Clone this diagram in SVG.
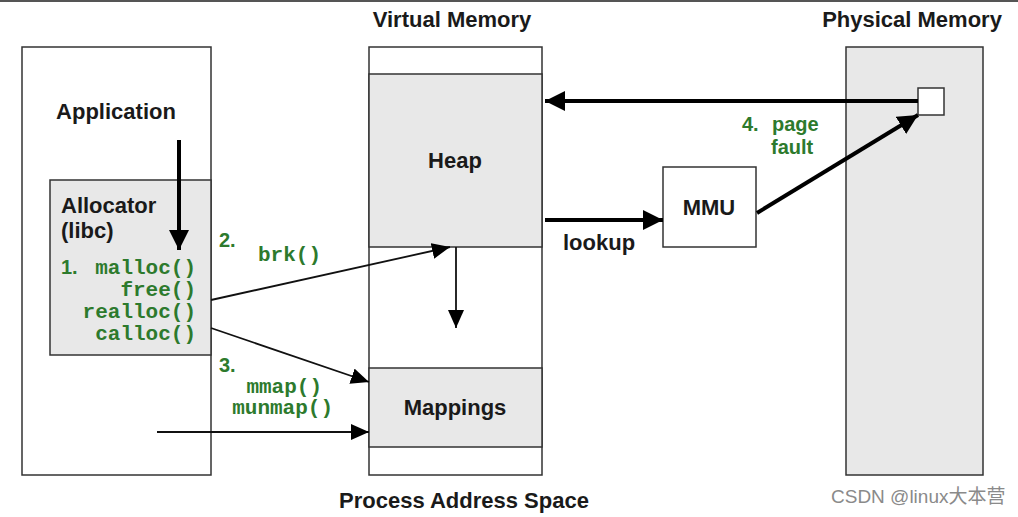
<svg xmlns="http://www.w3.org/2000/svg" width="1018" height="517" viewBox="0 0 1018 517">
<style>
.box{fill:#fff;stroke:#333;stroke-width:1.5}
.gray{fill:#e8e8e8;stroke:#333;stroke-width:1.5}
.lbl{font-family:"Liberation Sans",Arial,sans-serif;font-weight:bold;font-size:22px;fill:#1a1a1a}
.grn{font-family:"Liberation Sans",Arial,sans-serif;font-weight:bold;font-size:20px;fill:#2d7a2d}
.code{font-family:"Liberation Mono","Courier New",monospace;font-weight:bold;font-size:21px;fill:#2d7a2d}
.thin{stroke:#111;stroke-width:1.8;fill:none}
.thick{stroke:#000;stroke-width:4;fill:none}
.wm{font-family:"Liberation Sans",Arial,"Noto Sans CJK SC",sans-serif;font-size:19px;fill:#8a8a8a}
</style>
<defs>
<marker id="ah" markerUnits="userSpaceOnUse" markerWidth="20" markerHeight="16" refX="18" refY="8" orient="auto">
<path d="M0,0 L18,8 L0,16 Z" fill="#000"/>
</marker>
<marker id="ahb" markerUnits="userSpaceOnUse" markerWidth="22" markerHeight="20" refX="20" refY="10" orient="auto">
<path d="M0,0 L20,10 L0,20 Z" fill="#000"/>
</marker>
</defs>
<rect x="0" y="0" width="1018" height="2" fill="#555"/>
<g id="application">
<rect class="box" x="22" y="47" width="189" height="428"/>
<text class="lbl" x="116" y="119" text-anchor="middle">Application</text>
</g>
<g id="allocator">
<rect class="gray" x="50" y="180" width="161" height="175"/>
<text class="lbl" x="61" y="213">Allocator</text>
<text class="lbl" x="61" y="238">(libc)</text>
<text class="grn" x="61" y="274">1.</text>
<text class="code" x="196" y="274" text-anchor="end">malloc()</text>
<text class="code" x="196" y="296" text-anchor="end">free()</text>
<text class="code" x="196" y="318" text-anchor="end">realloc()</text>
<text class="code" x="196" y="340" text-anchor="end">calloc()</text>
</g>
<g id="virtual-memory">
<text class="lbl" x="452" y="27" text-anchor="middle">Virtual Memory</text>
<rect class="box" x="369" y="47" width="173" height="428"/>
<rect class="gray" x="369" y="74" width="173" height="173"/>
<text class="lbl" x="455" y="168" text-anchor="middle">Heap</text>
<rect class="gray" x="369" y="368" width="173" height="79"/>
<text class="lbl" x="455" y="415" text-anchor="middle">Mappings</text>
<text class="lbl" x="464" y="508" text-anchor="middle">Process Address Space</text>
</g>
<g id="mmu">
<rect class="box" x="663" y="167" width="93" height="80"/>
<text class="lbl" x="709" y="215" text-anchor="middle">MMU</text>
</g>
<g id="physical-memory">
<text class="lbl" x="912" y="27" text-anchor="middle">Physical Memory</text>
<rect class="gray" x="846" y="47" width="137" height="428"/>
<rect class="box" x="918" y="88" width="26" height="27"/>
</g>
<g id="connectors">
<line class="thick" x1="179" y1="140" x2="179" y2="250" marker-end="url(#ahb)"/>
<line class="thin" x1="211" y1="300" x2="450" y2="247" marker-end="url(#ah)"/>
<line class="thin" x1="211" y1="328" x2="369" y2="382" marker-end="url(#ah)"/>
<line class="thin" x1="157" y1="432" x2="369" y2="432" marker-end="url(#ah)"/>
<line class="thin" stroke-width="2" x1="456" y1="247" x2="456" y2="328" marker-end="url(#ah)"/>
<line class="thick" x1="545" y1="220" x2="663" y2="220" marker-end="url(#ahb)"/>
<line class="thick" x1="918" y1="101" x2="545" y2="101" marker-end="url(#ahb)"/>
<line class="thick" x1="757" y1="213" x2="918" y2="115" marker-end="url(#ahb)"/>
<text class="grn" x="219" y="247">2.</text>
<text class="code" x="258" y="261">brk()</text>
<text class="grn" x="219" y="372">3.</text>
<text class="code" x="322" y="393" text-anchor="end">mmap()</text>
<text class="code" x="333" y="414" text-anchor="end">munmap()</text>
<text class="lbl" x="563" y="250">lookup</text>
<text class="grn" x="742" y="131">4.<tspan x="772">page</tspan></text>
<text class="grn" x="771" y="154">fault</text>
</g>
<text class="wm" x="831" y="503">CSDN @linux大本营</text>
</svg>
